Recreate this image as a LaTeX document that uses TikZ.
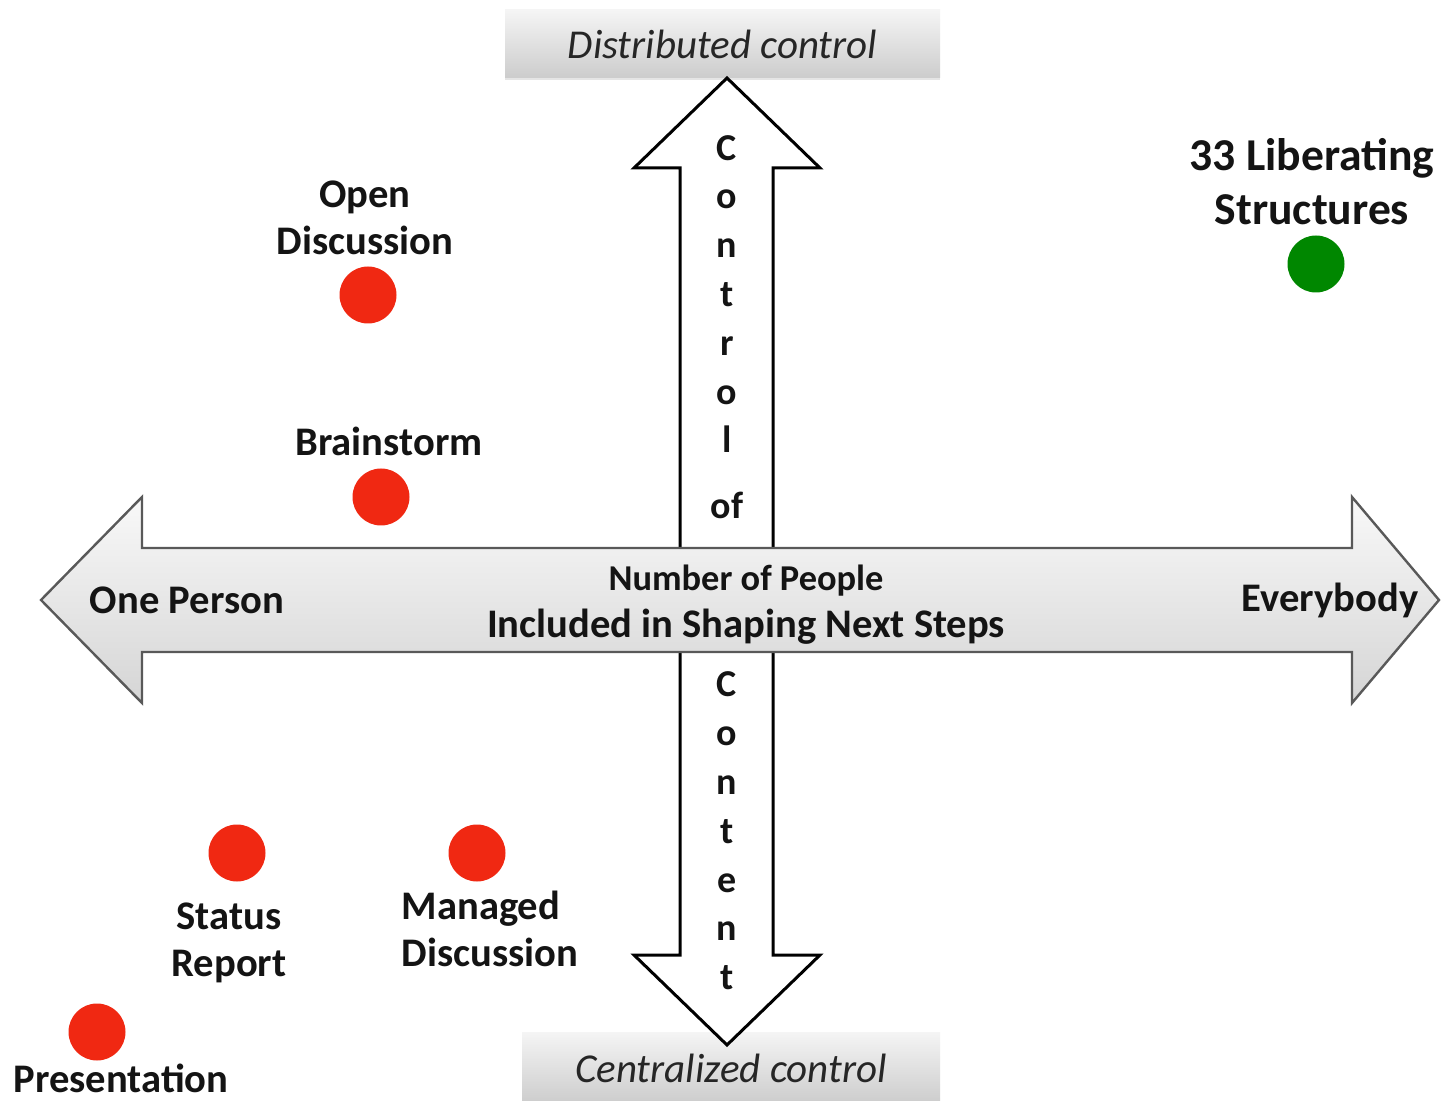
\documentclass[tikz,border=0pt]{standalone}
\usepackage{fontspec}
\setmainfont{Carlito}
\usetikzlibrary{shadows}
\definecolor{dotred}{RGB}{240,40,18}
\definecolor{dotgreen}{RGB}{0,135,0}

\begin{document}
\begin{tikzpicture}[x=0.5pt, y=-0.5pt,
  dot/.style={circle, minimum size=28.5pt, inner sep=0pt},
  lbl/.style={font=\fontsize{20.3}{23.5}\selectfont\bfseries, text=black!92, align=center, inner sep=0pt},
  vlbl/.style={font=\fontsize{19}{24.4}\selectfont\bfseries, text=black!92, align=center, inner sep=0pt},
  endbox/.style={top color=gray!8, bottom color=gray!40, inner sep=0pt,
    font=\fontsize{20.5}{23}\selectfont\itshape, text=black!85,
    drop shadow={opacity=0.2, shadow xshift=0pt, shadow yshift=-1pt}}]
\useasboundingbox (0,0) rectangle (1442,1101);
\fill[white] (0,0) rectangle (1442,1101);

\node[endbox, minimum width=217.5pt, minimum height=34pt] (distributed) at (722.5,44) {Distributed control};
\node[endbox, minimum width=209pt, minimum height=36pt] (centralized) at (731,1068) {Centralized control};

% control axis
\draw[line width=1.5pt, fill=white] (680,560) -- (680,168) -- (634,168) -- (727,78) -- (820,168) -- (773,168) -- (773,560) -- cycle;
\draw[line width=1.5pt, fill=white] (680,640) -- (680,955) -- (634,955) -- (727,1045) -- (820,955) -- (773,955) -- (773,640) -- cycle;

% people axis
\draw[line width=1.2pt, draw=black!65, top color=gray!5, bottom color=gray!33]
  (41,600) -- (142,497) -- (142,548) -- (1352,548) -- (1352,497) -- (1439,600)
  -- (1352,703) -- (1352,652) -- (142,652) -- (142,703) -- cycle;

\node[vlbl] (control) at (727,294) {C\\o\\n\\t\\r\\o\\l};
\node[vlbl] (of) at (727,505) {of};
\node[vlbl] (content) at (727,831) {C\\o\\n\\t\\e\\n\\t};

\node[lbl, font=\fontsize{18.2}{20}\selectfont\bfseries] (people) at (746,581) {Number of People};
\node[lbl] (steps) at (746,627) {Included in Shaping Next Steps};
\node[lbl] (one) at (187,600) {One Person};
\node[lbl] (everybody) at (1330,600) {Everybody};

% methods
\node[dot, fill=dotred] (open) at (368,295) {};
\node[lbl] (openlbl) at (365,218) {Open\\Discussion};
\node[dot, fill=dotred] (brainstorm) at (381,497) {};
\node[lbl] (brainstormlbl) at (389,441) {Brainstorm};
\node[dot, fill=dotred] (status) at (237,853) {};
\node[lbl] (statuslbl) at (229,943) {Status\\Report};
\node[dot, fill=dotred] (managed) at (477,853) {};
\node[lbl, align=left] (managedlbl) at (490,929) {Managed\\Discussion};
\node[dot, fill=dotred] (presentation) at (97,1032) {};
\node[lbl] (presentationlbl) at (121,1078) {Presentation};
\node[dot, fill=dotgreen] (liberating) at (1316,264) {};
\node[lbl, font=\fontsize{22.8}{27}\selectfont\bfseries] (liberatinglbl) at (1312,182) {33 Liberating\\Structures};
\end{tikzpicture}
\end{document}
